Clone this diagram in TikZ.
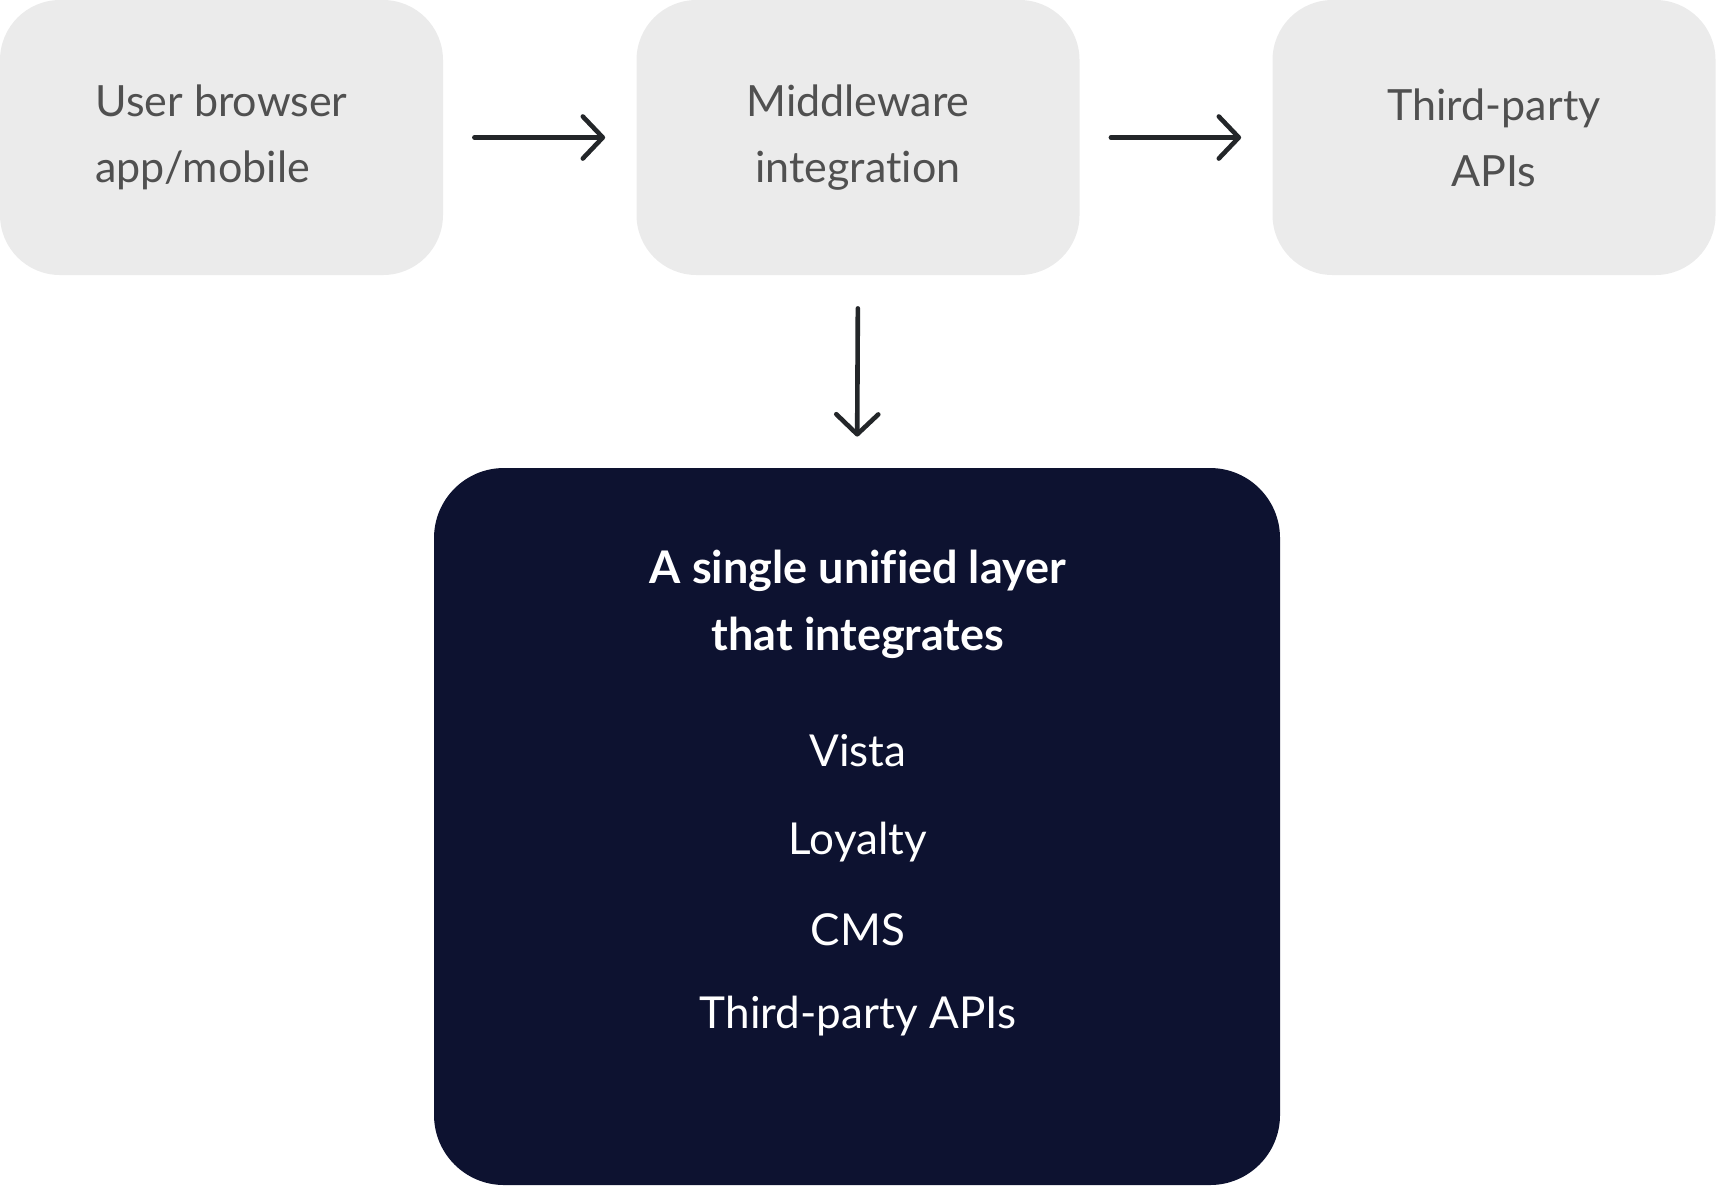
\documentclass[tikz,border=0pt]{standalone}
\usepackage{fontspec}
\setmainfont[Ligatures=NoCommon]{Lato}
\usetikzlibrary{arrows.meta}
\definecolor{boxgrey}{HTML}{EBEBEB}
\definecolor{textgrey}{HTML}{505050}
\definecolor{arrowdark}{HTML}{232629}
\definecolor{navy}{HTML}{0D1230}
\begin{document}
\begin{tikzpicture}[x=0.5pt,y=-0.5pt,
  greybox/.style={fill=boxgrey,rounded corners=30pt,minimum width=221.5pt,minimum height=137.5pt,inner sep=0pt,text=textgrey,font=\fontsize{21.5}{33}\selectfont},
  flowarrow/.style={draw=arrowdark,line width=2.3pt,line cap=round,-{Straight Barb[length=10pt,width=21pt,round]},shorten <=15.5pt,shorten >=15.5pt},
  navytext/.style={text=white,inner sep=0pt,anchor=center},
  itemtext/.style={navytext,font=\fontsize{22}{24}\selectfont},
  titletext/.style={navytext,font=\bfseries\fontsize{22.5}{24}\selectfont}]
\useasboundingbox (0,0) rectangle (1716,1185);
\node[greybox,align=left] (user) at (221.5,137.5) {User browser\\app/mobile};
\node[greybox,align=center] (mid) at (858,137.5) {Middleware\\integration};
\node[greybox,align=center] (third) at (1494,137.5) {Third-party\\APIs};
\node[fill=navy,rounded corners=35pt,minimum width=423pt,minimum height=358.5pt,inner sep=0pt] (layer) at (857,826.5) {};
\node[titletext] (t1) at (858,571) {A single unified layer};
\node[titletext] (t2) at (858,638) {that integrates};
\node[itemtext] (i1) at (858,751) {Vista};
\node[itemtext] (i2) at (858,842) {Loyalty};
\node[itemtext] (i3) at (858,930) {CMS};
\node[itemtext] (i4) at (858,1016) {Third-party APIs};
\draw[flowarrow] (user.east) -- (mid.west);
\draw[flowarrow] (mid.east) -- (third.west);
\draw[flowarrow,shorten <=16.5pt] (mid.south) -- (layer.north);
\end{tikzpicture}
\end{document}
